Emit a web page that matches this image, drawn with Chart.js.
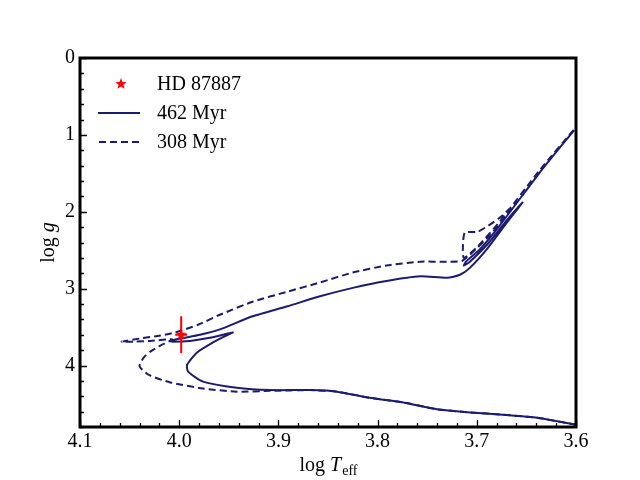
<!DOCTYPE html>
<html>
<head>
<meta charset="utf-8">
<script src="https://cdn.jsdelivr.net/npm/chart.js@4.4.1/dist/chart.umd.min.js"></script>
<style>html,body{margin:0;padding:0;background:#fff}</style>
</head>
<body>
<canvas id="hrd" width="640" height="480"></canvas>
<script>
// isochrone 462 Myr (solid)
const teff462 = [3.600,3.639,3.674,3.707,3.740,3.774,3.808,3.841,3.868,3.908,3.942,3.976,3.991,3.992,3.982,3.966,3.954,3.946,3.969,3.989,4.007,4.009,3.999,3.979,3.959,3.926,3.891,3.858,3.825,3.791,3.757,3.730,3.717,3.707,3.690,3.672,3.654,3.669,3.689,3.707,3.713,3.711,3.697,3.677,3.636,3.602];
const logg462 = [4.77,4.68,4.64,4.61,4.57,4.48,4.42,4.34,4.32,4.32,4.29,4.21,4.08,3.99,3.83,3.70,3.62,3.57,3.64,3.68,3.69,3.68,3.65,3.60,3.53,3.36,3.23,3.10,2.99,2.90,2.84,2.86,2.82,2.73,2.49,2.18,1.88,2.10,2.42,2.65,2.70,2.65,2.49,2.18,1.48,0.94];

// isochrone 308 Myr (dashed)
const teff308 = [3.600,3.639,3.674,3.707,3.740,3.774,3.808,3.841,3.868,3.908,3.942,3.976,4.009,4.031,4.040,4.036,4.029,4.019,4.007,4.029,4.045,4.058,4.040,4.019,4.004,3.981,3.959,3.926,3.891,3.858,3.825,3.791,3.757,3.730,3.715,3.707,3.687,3.660,3.677,3.699,3.712,3.714,3.713,3.699,3.677,3.636,3.600];
const logg308 = [4.77,4.68,4.64,4.61,4.57,4.48,4.42,4.34,4.32,4.33,4.34,4.30,4.22,4.12,4.01,3.90,3.82,3.74,3.66,3.68,3.69,3.69,3.65,3.61,3.57,3.47,3.34,3.17,3.04,2.92,2.79,2.70,2.65,2.65,2.64,2.56,2.31,1.88,2.08,2.26,2.27,2.45,2.60,2.45,2.13,1.45,0.90];

// the star
const starTeff = [3.998];
const starLogg = [3.60];
const starErrTeff = [0.006];
const starErrLogg = [0.24];

const xTicks = [4.1, 4.0, 3.9, 3.8, 3.7, 3.6];
const yTicks = [0, 1, 2, 3, 4];
const seriesLabels = ['HD 87887', '462 Myr', '308 Myr'];

const navy = '#1c1c6e';
const serif = "'Liberation Serif', 'DejaVu Serif', serif";

function toPoints(xs, ys) {
    return xs.map((x, i) => ({ x: x, y: ys[i] }));
}

// filled five point star used as point style
function makeStar(r) {
    const c = document.createElement('canvas');
    c.width = c.height = Math.ceil(r * 2 + 2);
    const g = c.getContext('2d');
    g.translate(c.width / 2, c.height / 2);
    g.beginPath();
    for (let i = 0; i < 10; i++) {
        const rad = i % 2 === 0 ? r : r * 0.42;
        const a = -Math.PI / 2 + i * Math.PI / 5;
        g.lineTo(rad * Math.cos(a), rad * Math.sin(a));
    }
    g.closePath();
    g.fillStyle = '#ff0000';
    g.fill();
    return c;
}
const starImg = makeStar(6);

const decorations = {
    id: 'decorations',
    afterDatasetsDraw(chart) {
        const ctx = chart.ctx;
        const xs = chart.scales.x, ys = chart.scales.y;
        // error bars
        ctx.save();
        ctx.strokeStyle = '#ff0000';
        ctx.lineWidth = 2;
        starTeff.forEach((t, i) => {
            const px = xs.getPixelForValue(t), py = ys.getPixelForValue(starLogg[i]);
            ctx.beginPath();
            ctx.moveTo(px, ys.getPixelForValue(starLogg[i] - starErrLogg[i]));
            ctx.lineTo(px, ys.getPixelForValue(starLogg[i] + starErrLogg[i]));
            ctx.moveTo(xs.getPixelForValue(t - starErrTeff[i]), py);
            ctx.lineTo(xs.getPixelForValue(t + starErrTeff[i]), py);
            ctx.stroke();
        });
        ctx.restore();
    },
    afterDraw(chart) {
        const ctx = chart.ctx;
        const a = chart.chartArea;
        const xs = chart.scales.x, ys = chart.scales.y;
        ctx.save();
        // inward ticks
        ctx.strokeStyle = '#000';
        ctx.lineWidth = 1.3;
        ctx.beginPath();
        for (let k = 0; k <= 25; k++) {
            const v = 3.6 + k * 0.02;
            const px = Math.round(xs.getPixelForValue(v)) + 0.5;
            const len = k % 5 === 0 ? 7 : 4;
            ctx.moveTo(px, a.bottom);
            ctx.lineTo(px, a.bottom - len);
        }
        for (let k = 0; k <= 24; k++) {
            const v = k * 0.2;
            const py = Math.round(ys.getPixelForValue(v)) + 0.5;
            const len = k % 5 === 0 ? 7 : 4;
            ctx.moveTo(a.left, py);
            ctx.lineTo(a.left + len, py);
        }
        ctx.stroke();
        // frame
        ctx.lineWidth = 3;
        ctx.strokeRect(a.left, a.top, a.right - a.left, a.bottom - a.top);

        // axis titles
        ctx.fillStyle = '#000';
        ctx.textBaseline = 'alphabetic';
        const big = '20px ' + serif, ital = 'italic 20px ' + serif, small = '14px ' + serif;
        // x title: log T_eff
        ctx.font = big; const w1 = ctx.measureText('log ').width;
        ctx.font = ital; const w2 = ctx.measureText('T').width;
        ctx.font = small; const w3 = ctx.measureText('eff').width;
        let x0 = (a.left + a.right) / 2 - (w1 + w2 + w3) / 2;
        const yb = 471;
        ctx.textAlign = 'left';
        ctx.font = big; ctx.fillText('log ', x0, yb);
        ctx.font = ital; ctx.fillText('T', x0 + w1, yb);
        ctx.font = small; ctx.fillText('eff', x0 + w1 + w2 + 1, yb + 4);
        // y title: log g
        ctx.save();
        ctx.translate(54, (a.top + a.bottom) / 2);
        ctx.rotate(-Math.PI / 2);
        ctx.font = big; const v1 = ctx.measureText('log ').width;
        ctx.font = ital; const v2 = ctx.measureText('g').width;
        const s0 = -(v1 + v2) / 2;
        ctx.font = big; ctx.fillText('log ', s0, 0);
        ctx.font = ital; ctx.fillText('g', s0 + v1, 0);
        ctx.restore();

        // legend inside the plot
        ctx.font = big;
        ctx.textBaseline = 'middle';
        const rows = [84, 113, 142];
        ctx.drawImage(starImg, 121 - starImg.width / 2, rows[0] - starImg.height / 2);
        ctx.strokeStyle = navy;
        ctx.lineWidth = 2;
        ctx.beginPath(); ctx.moveTo(98, rows[1]); ctx.lineTo(140, rows[1]); ctx.stroke();
        ctx.setLineDash([7, 4]);
        ctx.beginPath(); ctx.moveTo(99, rows[2]); ctx.lineTo(141, rows[2]); ctx.stroke();
        ctx.setLineDash([]);
        ctx.fillStyle = '#000';
        seriesLabels.forEach((t, i) => ctx.fillText(t, 157, rows[i] + 1));
        ctx.restore();
    }
};

new Chart(document.getElementById('hrd').getContext('2d'), {
    type: 'scatter',
    data: {
        datasets: [
            {
                label: seriesLabels[1],
                data: toPoints(teff462, logg462),
                showLine: true,
                borderColor: navy,
                borderWidth: 2,
                pointRadius: 0,
                tension: 0.2,
                order: 3
            },
            {
                label: seriesLabels[2],
                data: toPoints(teff308, logg308),
                showLine: true,
                borderColor: navy,
                borderWidth: 2,
                borderDash: [7, 4],
                pointRadius: 0,
                tension: 0.2,
                order: 2
            },
            {
                label: seriesLabels[0],
                data: toPoints(starTeff, starLogg),
                pointStyle: starImg,
                pointRadius: 6,
                order: 1
            }
        ]
    },
    options: {
        responsive: false,
        animation: false,
        devicePixelRatio: 1,
        layout: { padding: { top: 58, right: 64, left: 0, bottom: 0 } },
        plugins: { legend: { display: false }, tooltip: { enabled: false } },
        scales: {
            x: {
                type: 'linear',
                reverse: true,
                min: 3.6,
                max: 4.1,
                grid: { display: false, drawTicks: false },
                border: { display: false },
                afterBuildTicks: s => { s.ticks = xTicks.map(v => ({ value: v })); },
                afterFit: s => { s.height = 53; },
                ticks: {
                    padding: 3,
                    color: '#000',
                    font: { family: serif, size: 20 },
                    callback: v => v.toFixed(1)
                }
            },
            y: {
                type: 'linear',
                reverse: true,
                min: 0,
                max: 4.8,
                grid: { display: false, drawTicks: false },
                border: { display: false },
                afterBuildTicks: s => { s.ticks = yTicks.map(v => ({ value: v })); },
                afterFit: s => { s.width = 80; },
                ticks: {
                    padding: 5,
                    color: '#000',
                    font: { family: serif, size: 20 },
                    callback: v => String(v)
                }
            }
        }
    },
    plugins: [decorations]
});
</script>
</body>
</html>
